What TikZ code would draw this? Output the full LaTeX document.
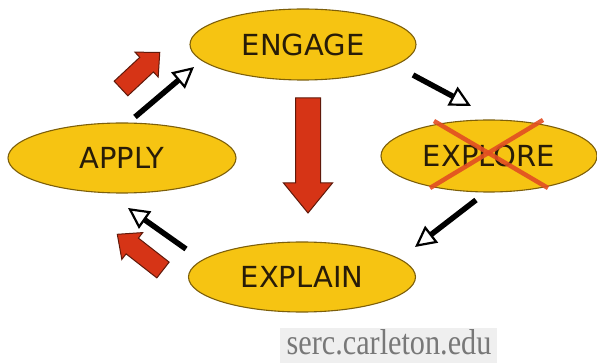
\documentclass[tikz,border=0pt]{standalone}
\usepackage{fontspec}
\setmainfont{DejaVu Sans}
\newfontfamily\creditfont{Liberation Serif}
\usepackage{tikz}
\usetikzlibrary{shapes.geometric}
\usetikzlibrary{arrows.meta}
\usetikzlibrary{positioning}
\definecolor{stagefill}{RGB}{246,196,18}
\definecolor{stageline}{RGB}{125,95,10}
\definecolor{stagetext}{RGB}{40,28,8}
\definecolor{arrowred}{RGB}{214,52,22}
\definecolor{arrowedge}{RGB}{95,25,10}
\definecolor{crossred}{RGB}{226,78,34}
\definecolor{creditbox}{RGB}{239,239,239}
\definecolor{credittext}{RGB}{120,120,120}
% block arrow: tail, angle, length, half shaft, half head, head length
\newcommand{\redarrow}[6]{%
\begin{scope}[shift={(#1)},rotate=#2]
\draw[BlockArrow] (0,-#4)--(#3-#6,-#4)--(#3-#6,-#5)--(#3,0)--(#3-#6,#5)--(#3-#6,#4)--(0,#4)--cycle;
\end{scope}}

\begin{document}
\begin{tikzpicture}[
x=1pt,y=-1pt,
Stage/.style={ellipse,draw=stageline,fill=stagefill,line width=1.1pt,inner sep=0pt,
  text=stagetext,font=\fontsize{29}{29}\selectfont},
Flow/.style={draw=black,line width=5.5pt,
  -{Triangle[open,length=21pt,width=21pt,line width=2.2pt]}},
BlockArrow/.style={draw=arrowedge,fill=arrowred,line width=1pt,line join=miter},
Cross/.style={draw=crossred,line width=4.5pt,opacity=.9}
]
\useasboundingbox (0,0) rectangle (597,363);

\node[Stage,minimum width=226,minimum height=71] (engage) at (303,44.5) {ENGAGE};
\node[Stage,minimum width=216,minimum height=72] (explore) at (489,156) {EXPLORE};
\node[Stage,minimum width=227,minimum height=70] (explain) at (302,277) {EXPLAIN};
\node[Stage,minimum width=228,minimum height=70] (apply) at (122,158) {APPLY};

% crossed out
\draw[Cross] (434,121) -- (548,188);
\draw[Cross] (543,120) -- (430,188);

% cycle
\coordinate (engage-out) at (413,75);
\coordinate (explore-in) at (471,106);
\coordinate (explore-out) at (476,200);
\coordinate (explain-in) at (415,247);
\coordinate (explain-out) at (186,249);
\coordinate (apply-in) at (128,208);
\coordinate (apply-out) at (135,117);
\coordinate (engage-in) at (194,67);

\draw[Flow] (engage-out) -- (explore-in);
\draw[Flow] (explore-out) -- (explain-in);
\draw[Flow] (explain-out) -- (apply-in);
\draw[Flow] (apply-out) -- (engage-in);

% shortcut
\redarrow{308,98}{-90}{115}{12.5}{24.5}{30}
\redarrow{121,88.5}{43}{53}{10}{17}{18}
\redarrow{163,270}{142}{58}{10}{17}{19}

\fill[creditbox] (280,328) rectangle (497,363);
\node[anchor=base,text=credittext,font=\creditfont\fontsize{36}{36}\selectfont,
  xscale=.84,transform shape,inner sep=0pt] (credit) at (389,354) {serc.carleton.edu};

\end{tikzpicture}
\end{document}
